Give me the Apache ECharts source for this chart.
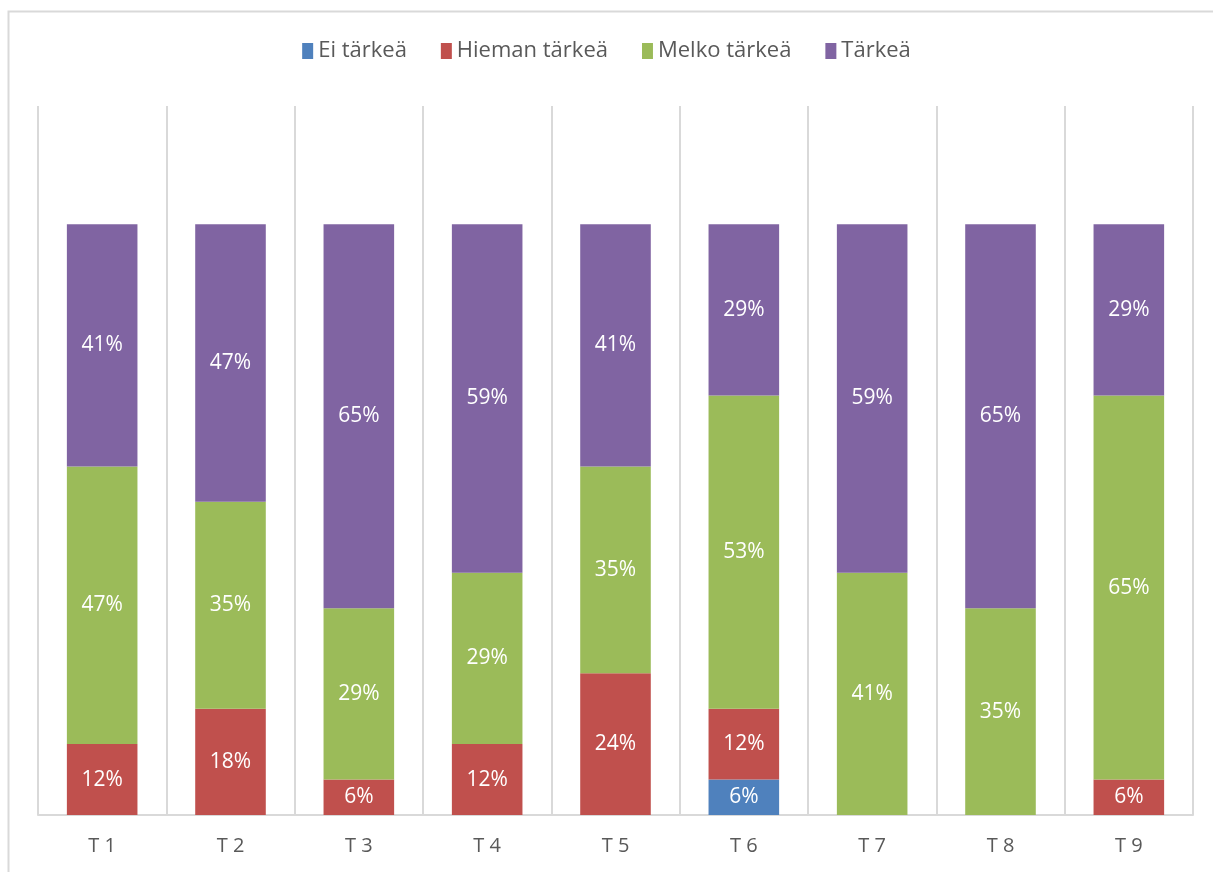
<!DOCTYPE html>
<html>
	<head>
		<meta charset="utf-8" />
		<title>Tärkeys</title>
		<style type="text/css">
			body,
			html,
			#chart {
				width: 100%;
				height: 100%;
				overflow: hidden;
				margin: 0;
				background: #fff;
			}
		</style>
	</head>
	<body>
		<div id="chart"></div>
		<script src="https://cdn.jsdelivr.net/npm/echarts@6/dist/echarts.min.js"></script>
		<script>
			// kategoriat ja osuudet (%)
			var categories = ['T 1', 'T 2', 'T 3', 'T 4', 'T 5', 'T 6', 'T 7', 'T 8', 'T 9'];
			var eiTarkea = [0, 0, 0, 0, 0, 6, 0, 0, 0];
			var hiemanTarkea = [12, 18, 6, 12, 24, 12, 0, 0, 6];
			var melkoTarkea = [47, 35, 29, 29, 35, 53, 41, 35, 65];
			var tarkea = [41, 47, 65, 59, 41, 29, 59, 65, 29];

			var names = ['Ei tärkeä', 'Hieman tärkeä', 'Melko tärkeä', 'Tärkeä'];
			var colors = ['#4f81bd', '#c0504d', '#9bbb59', '#8064a2'];
			var values = [eiTarkea, hiemanTarkea, melkoTarkea, tarkea];

			var font = '"Open Sans", "Noto Sans", sans-serif';

			var myChart = echarts.init(document.getElementById('chart'));

			var series = values.map(function(arr, i) {
				return {
					name: names[i],
					type: 'bar',
					stack: 'total',
					barWidth: '55%',
					data: arr.map(function(v) {
						return v === 0 ? null : v;
					}),
					itemStyle: { color: colors[i] },
					label: {
						show: true,
						position: 'inside',
						color: '#fff',
						fontFamily: font,
						fontSize: 21,
						formatter: function(p) {
							return p.value + '%';
						},
					},
				};
			});

			var option = {
				animation: false,
				graphic: [
					{
						type: 'rect',
						shape: { x: 8.5, y: 11.5, width: 1240, height: 900 },
						style: { fill: 'none', stroke: '#d9d9d9', lineWidth: 2 },
						silent: true,
					},
				],
				legend: {
					top: 35,
					left: 'center',
					itemWidth: 11,
					itemHeight: 16,
					itemGap: 34,
					icon: 'rect',
					textStyle: {
						color: '#595959',
						fontFamily: font,
						fontSize: 22,
					},
					data: names,
				},
				grid: {
					left: 38,
					right: 20,
					top: 106,
					bottom: 57,
				},
				xAxis: {
					type: 'category',
					data: categories,
					axisLine: { lineStyle: { color: '#d9d9d9', width: 2 } },
					axisTick: { show: false },
					splitLine: {
						show: true,
						interval: 0,
						lineStyle: { color: '#d9d9d9', width: 2 },
					},
					axisLabel: {
						color: '#595959',
						fontFamily: font,
						fontSize: 20,
						margin: 21,
					},
				},
				yAxis: {
					type: 'value',
					min: 0,
					max: 120,
					show: false,
					splitLine: { show: false },
				},
				series: series,
			};
			myChart.setOption(option);
		</script>
	</body>
</html>
